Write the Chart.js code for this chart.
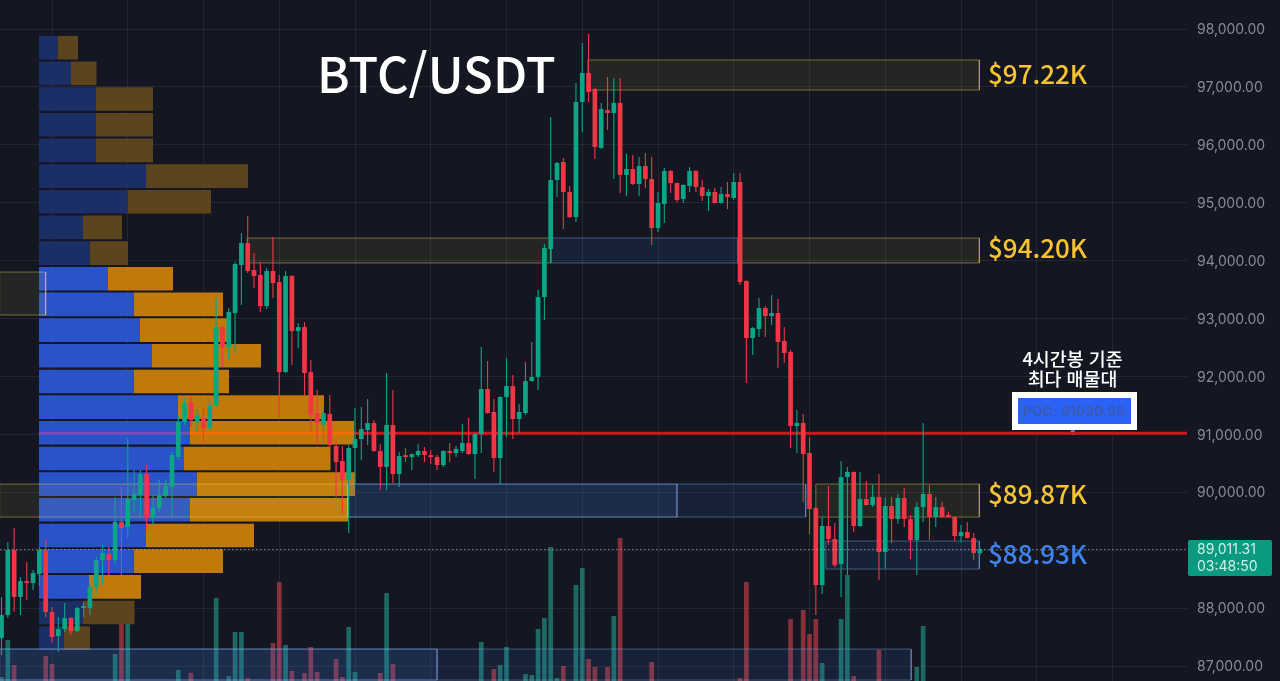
<!DOCTYPE html>
<html lang="ko">
<head>
<meta charset="utf-8">
<title>BTC/USDT</title>
<script src="https://cdn.jsdelivr.net/npm/chart.js@4"></script>
<style>
html,body{margin:0;padding:0;background:#141722;width:1280px;height:681px;overflow:hidden}
#wrap{position:relative;width:1280px;height:681px}
canvas{position:absolute;left:0;top:0}
.t{position:absolute;white-space:nowrap;line-height:1;font-family:"Noto Sans CJK KR","Noto Sans",sans-serif}
#title{left:317px;top:47px;font-size:49px;color:#fff;font-weight:500}
.tag{left:988px;font-size:26px;font-weight:500}
.y{color:#f7c331}.b{color:#3f83f0}
#note{left:1010px;width:125px;top:348px;text-align:center;color:#fff;font-size:18.4px;line-height:20px;font-weight:500}
#poc{position:absolute;left:1012px;top:392px;width:113px;height:26px;border:6px solid #fff;background:#2a62f5;color:#3f5aa8;font:600 13.5px Inter,sans-serif;letter-spacing:.3px;line-height:27px;text-align:center;white-space:nowrap}
#last{position:absolute;left:1188px;top:540px;width:84px;height:36px;background:#0a9a80;border-radius:2px;color:#d0efe7;font:14px Inter,sans-serif;line-height:16.5px;padding-top:1px;box-sizing:border-box;text-align:left;padding-left:9px}
</style>
</head>
<body>
<div id="wrap">
<canvas id="c" width="1280" height="681"></canvas>
<div class="t" id="title">BTC/USDT</div>
<div class="t tag y" style="top:60px">$97.22K</div>
<div class="t tag y" style="top:234px">$94.20K</div>
<div class="t tag y" style="top:480px">$89.87K</div>
<div class="t tag b" style="top:540px">$88.93K</div>
<div class="t" id="note">4시간봉 기준<br>최다 매물대</div>
<div id="poc">POC: 91030.55</div>
<div id="last">89,011.31<br>03:48:50</div>
</div>
<script>
// candles (4h), first candle has index -8
const firstIndex = -8;
const opens = [87482,87880,89002,88191,88467,88432,88588,89002,
87932,87517,87638,87828,87603,88000,88000,88363,88829,88933,
88829,89486,89400,89866,89953,90315,89555,89728,89935,90091,
90608,91213,91559,91213,91282,91109,91507,92853,92508,93095,
93925,94304,93838,93752,93216,93821,93630,92076,93734,92784,
92853,92076,91368,91161,91351,90798,90539,90211,90764,90919,
91075,91196,90712,90436,91161,90315,90625,90608,90643,90712,
90643,90608,90470,90695,90678,90712,90850,90660,91005,91783,
91386,90591,91645,91835,91265,91368,91921,91990,93371,94200,
95392,95703,95185,94753,96739,97240,96964,95945,96601,96549,
96722,95479,95582,95323,95634,95409,94563,94978,95548,95340,
95064,95288,95548,95271,95116,95185,94995,95150,95081,95358,
93648,92664,92819,93181,93043,93095,92612,92422,91144,91196,
90678,89728,88397,89417,89192,88760,90263,90350,89417,89883,
89780,89918,88967,89763,89538,89901,89538,89175,89745,89970,
89573,89745,89607,89573,89244,89313,89210,88950];
const highs = [88191,89140,89383,88535,88795,88657,89054,89175,
88018,87845,88087,87845,88018,88104,88432,88880,89088,89054,
89918,90091,90937,90384,90384,90470,89953,90211,90211,90695,
91334,91628,91680,91420,91455,91593,93354,92870,93181,93977,
94477,94771,94131,93977,93873,94408,93752,93821,93750,92922,
92940,92284,91766,91472,91680,90902,90798,90815,91455,91472,
91610,91247,90833,92059,91766,90695,90764,90670,90833,90781,
90729,90643,90725,90850,90798,91178,91282,91023,92508,92267,
91610,91660,92318,92025,91524,92249,92594,93493,94287,96480,
95703,95772,95288,97067,97758,97914,96980,96722,97171,97154,
97154,95841,95824,95789,95858,95789,95185,95600,95565,95350,
95320,95617,95565,95392,95236,95254,95271,95358,95513,95513,
93660,92853,93354,93216,93406,93337,92853,92456,91420,91351,
90954,89740,89573,90108,89469,90539,90436,90360,90350,90194,
90125,90315,89901,89918,89970,90074,89607,89831,91196,90125,
89918,89831,89659,89585,89434,89486,89296,89040];
const lows = [87189,87828,87932,87880,88139,88312,88380,87845,
87396,87241,87586,87534,87586,87845,87880,88242,88397,88570,
88743,88570,89210,89642,89573,89348,89434,89659,89901,89573,
90556,91161,91127,91040,90850,91075,91472,92163,92284,92404,
93233,93786,93527,93113,93164,93354,91282,92060,92197,92491,
91680,91040,90815,90815,90781,89918,89607,89296,90125,90556,
90815,90700,90039,90039,90160,90091,90522,90384,90608,90522,
90487,90384,90436,90522,90608,90678,90643,90228,90678,91360,
90350,90142,90954,90919,91023,91334,91910,91766,92975,93959,
95098,94546,94736,94667,96221,96739,95755,95930,96256,95409,
95168,95116,95306,95116,95254,94270,94494,94650,95168,95012,
94995,95185,95185,95029,94857,94985,94985,94891,95047,93579,
91887,92370,92681,92681,92888,92145,92232,90764,90678,89831,
89279,87880,88242,89088,88708,88191,88570,89313,89400,89770,
89745,88484,88674,89123,89452,89400,88847,88570,89486,89175,
89400,89565,89555,89158,89140,89200,88829,88915];
const closes = [87880,89002,88191,88467,88432,88605,89002,87932,
87500,87638,87828,87603,88000,88018,88363,88829,88950,88829,
89486,89383,89883,89970,90315,89555,89728,89953,90108,90643,
91213,91541,91247,91334,91109,91507,92853,92491,93113,93942,
94304,93821,93734,93216,93821,93613,92076,93734,92784,92853,
92059,91334,91196,91368,90815,90522,90211,90764,90919,91092,
91196,90712,90436,91161,90315,90625,90608,90660,90712,90643,
90608,90470,90712,90678,90747,90850,90660,91005,91783,91368,
90591,91645,91835,91265,91386,91921,91990,93371,94218,95392,
95686,95185,94753,96739,97240,96912,95962,96618,96549,96722,
95479,95582,95323,95634,95409,94563,94995,95548,95340,95047,
95306,95548,95271,95116,95185,94995,95150,95098,95358,93630,
92664,92836,93181,93043,93095,92595,92404,91144,91196,90660,
89711,88397,89417,89192,88743,90263,90350,89417,89883,89780,
89918,88967,89763,89538,89901,89538,89175,89745,89970,89573,
89745,89573,89573,89244,89313,89210,88950,89011];

// volume bars that rise into view
const volumeIndex = [-8,-7,-6,-1,0,10,11,12,20,22,26,28,29,30,31,35,36,37,38,40,41,42,45,46,47,48,52,53,54,68,70,71,72,75,76,77,78,79,80,81,83,84,85,86,88,89,90,95,109,110,117,119,120,121,122,125,126,127,131,137,138];
const volumeValue = [4,41,16,25,17,27,58,74,11,8,83,5,49,49,3,38,99,36,10,8,34,9,22,4,54,9,8,88,17,39,12,16,34,7,6,52,63,134,3,15,96,113,22,14,14,65,143,19,3,99,62,71,47,62,18,62,106,5,31,14,55];

// volume profile
const profilePrice = [97677,97234,96790,96347,95904,95460,95017,94574,94130,93687,93244,92800,92357,91914,91470,91027,90584,90141,89697,89254,88811,88367,87924,87481];
const profileBuy = [18.5,32,57,57,57,107,88.5,44,50.5,69,94.5,101,113,94.5,139,151,145,157.5,151,107,94.5,50,44,25];
const profileSell = [20.5,25.5,57,57,57,102,83.5,39,38.5,65,89.5,87,109,95.5,146,164,146.5,158.5,158,108,89.5,52,51.5,26];
const valueAreaFirst = 9, valueAreaLast = 21;

// price zones
const zoneFrom = [84.9,30.9,108.7,79,-8.3,-8.3,46.9,46.9,121,122.6,-8.3,-8.3];
const zoneTo   = [146.9,79,146.9,108.7,-1,46.9,99,119.4,146.9,146.9,61,136.1];
const zoneHigh = [97465,94390,94390,94390,93803,90142,90142,90142,90142,89158,87293,87293];
const zoneLow  = [96946,93959,93959,93959,93061,89572,89572,89572,89572,88674,86757,86757];
const zoneKind = ['y','y','y','b','y','y','b','b','y','b','b','b'];

const pocLevel = 91020;
const pocPrice = 91030.55;
const pocX = [-2.06,21.86,47.84,179.8];
const pocMarkerX = 161.7;
const lastPrice = 89011.31;

// axis
const priceTicks = [87000,88000,89000,90000,91000,92000,93000,94000,95000,96000,97000,98000];
const yMin = 86741, yMax = 98500.8;
const xMin = -8.24, xMax = 179.8;

const UP = '#0ca585', DOWN = '#f23645';
const idx = opens.map((_, i) => firstIndex + i);
const isUp = k => closes[k - firstIndex] >= opens[k - firstIndex];

const datasets = [];
datasets.push({type:'bar',label:'Volume',xAxisID:'x',yAxisID:'yVol',order:9,grouped:false,barThickness:4.7,inflateAmount:0,
  data:volumeIndex.map((k,i)=>({x:k,y:volumeValue[i]})),
  backgroundColor:volumeIndex.map(k=>isUp(k)?'rgba(34,160,140,.6)':'rgba(242,70,80,.52)')});
const rowDim = i => i<valueAreaFirst || i>valueAreaLast;
datasets.push({type:'bar',label:'Buy volume',indexAxis:'y',xAxisID:'xProfile',yAxisID:'y',order:8,grouped:false,barThickness:23.6,inflateAmount:0,
  data:profilePrice.map((p,i)=>({y:p,x:[0,profileBuy[i]]})),
  backgroundColor:profilePrice.map((_,i)=>rowDim(i)?'#1c2e66':'#2a52c9')});
datasets.push({type:'bar',label:'Sell volume',indexAxis:'y',xAxisID:'xProfile',yAxisID:'y',order:8,grouped:false,barThickness:23.6,inflateAmount:0,
  data:profilePrice.map((p,i)=>({y:p,x:[profileBuy[i],profileBuy[i]+profileSell[i]]})),
  backgroundColor:profilePrice.map((_,i)=>rowDim(i)?'#5c441e':'#bf7a0b')});
zoneFrom.forEach((x0,i)=>{
  const y = zoneKind[i]==='y';
  datasets.push({type:'line',label:'Zone '+i,xAxisID:'x',yAxisID:'y',order:6,pointRadius:0,tension:0,borderWidth:1,
    fill:'shape',
    borderColor:y?'rgba(240,215,90,.42)':'rgba(130,175,235,.42)',
    backgroundColor:y?'rgba(255,235,70,.07)':'rgba(60,130,225,.11)',
    data:[{x:x0,y:zoneHigh[i]},{x:zoneTo[i],y:zoneHigh[i]},{x:zoneTo[i],y:zoneLow[i]},{x:x0,y:zoneLow[i]},{x:x0,y:zoneHigh[i]}]});
});
const pocColors = ['#7b4db8','#f26c05','#cc171e'];
datasets.push({type:'line',label:'POC',xAxisID:'x',yAxisID:'y',order:5,pointRadius:0,borderWidth:3,borderColor:'#cc171e',
  data:pocX.map(x=>({x,y:pocLevel})),
  segment:{borderColor:c=>pocColors[c.p0DataIndex]}});
datasets.push({type:'line',label:'POC marker',xAxisID:'x',yAxisID:'y',order:5,showLine:false,pointRadius:2.5,pointBackgroundColor:'#5b9cf5',pointBorderWidth:0,
  data:[{x:pocMarkerX,y:pocPrice}]});
datasets.push({type:'bar',label:'Wicks',xAxisID:'x',yAxisID:'y',order:3,grouped:false,barThickness:1.1,inflateAmount:0,
  data:idx.map((k,i)=>({x:k,y:[lows[i],highs[i]]})),
  backgroundColor:idx.map(k=>isUp(k)?UP:DOWN)});
datasets.push({type:'bar',label:'Candles',xAxisID:'x',yAxisID:'y',order:2,grouped:false,barThickness:4.7,inflateAmount:0,minBarLength:2,
  data:idx.map((k,i)=>({x:k,y:[opens[i],closes[i]]})),
  backgroundColor:idx.map(k=>isUp(k)?UP:DOWN)});
datasets.push({type:'line',label:'Last price',xAxisID:'x',yAxisID:'y',order:1,pointRadius:0,borderWidth:1,borderDash:[1.5,2.5],borderColor:'rgba(190,205,215,.6)',
  data:[{x:xMin,y:lastPrice},{x:xMax,y:lastPrice}]});

const gridColor = 'rgba(255,255,255,.07)';
new Chart(document.getElementById('c'),{
  type:'bar',
  data:{datasets},
  options:{
    responsive:false,animation:false,
    layout:{padding:0,autoPadding:false},
    plugins:{legend:{display:false},tooltip:{enabled:false},title:{display:false}},
    events:[],
    scales:{
      x:{type:'linear',axis:'x',offset:false,min:xMin,max:xMax,
        grid:{color:gridColor,offset:false,drawTicks:false},border:{display:false},
        ticks:{display:false,stepSize:12,includeBounds:false,autoSkip:false}},
      y:{type:'linear',axis:'y',position:'right',offset:false,min:yMin,max:yMax,beginAtZero:false,
        grid:{color:gridColor,offset:false,drawTicks:false},border:{display:false},
        afterFit:s=>{s.width=93;s.paddingTop=0;s.paddingBottom=0},
        afterBuildTicks:s=>{s.ticks=priceTicks.map(value=>({value}))},
        ticks:{autoSkip:false,padding:10,labelOffset:1,color:'#868c97',
          font:{family:'Inter',size:14},
          callback:v=>v.toLocaleString('en-US',{minimumFractionDigits:2,maximumFractionDigits:2})}},
      xProfile:{type:'linear',axis:'x',display:false,offset:false,min:-39,max:1148},
      yVol:{type:'linear',axis:'y',display:false,offset:false,min:0,max:681,beginAtZero:true}
    }
  }
});
</script>
</body>
</html>
